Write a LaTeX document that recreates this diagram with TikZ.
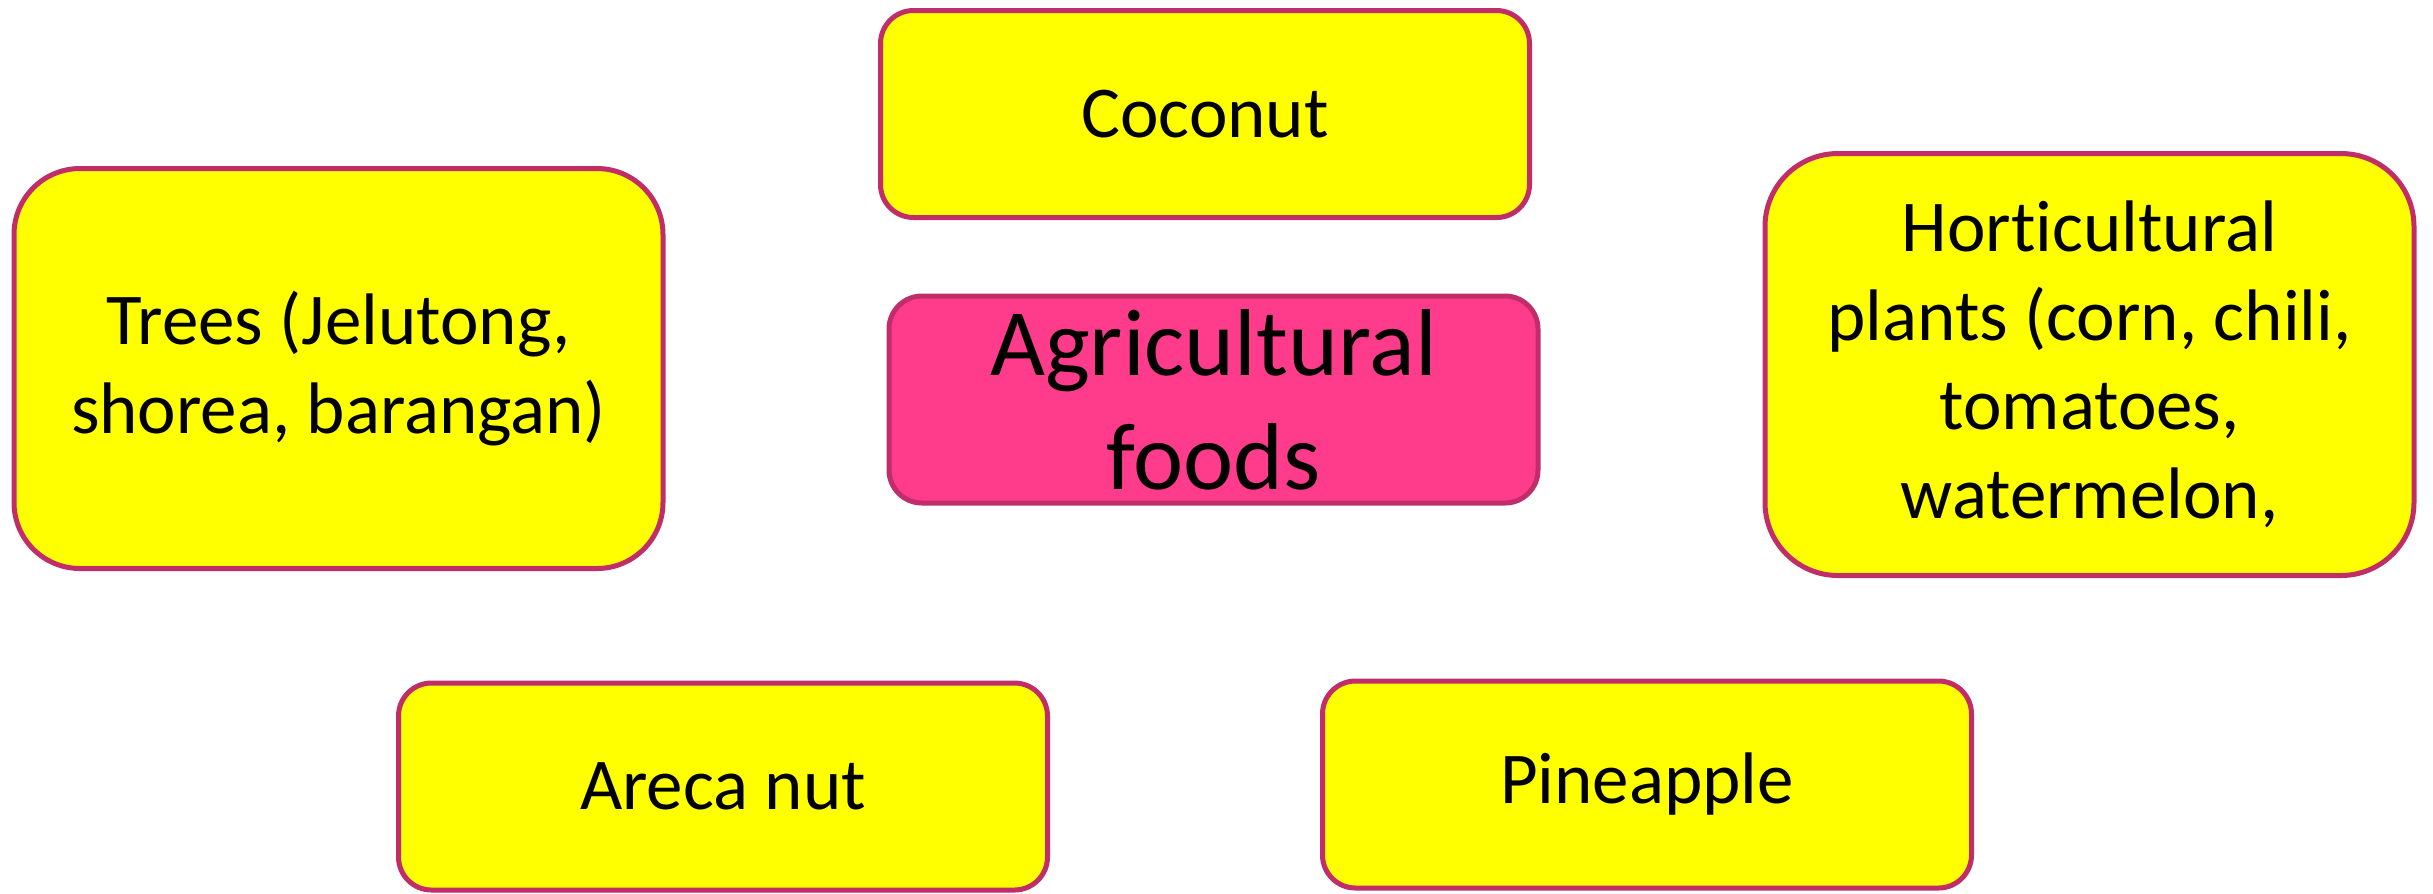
\documentclass[tikz,border=0pt]{standalone}
\usepackage{fontspec}
\setmainfont{Carlito}[Ligatures=NoCommon]
\definecolor{boxyellow}{HTML}{FFFF00}
\definecolor{boxpink}{HTML}{FF3B8C}
\definecolor{boxline}{HTML}{C02D69}
\tikzset{
  foodbox/.style={draw=boxline, line width=1.25pt, fill=boxyellow,
    rounded corners=8.25pt, minimum width=162.25pt, minimum height=51.75pt,
    inner sep=0pt, align=center, font=\fontsize{18.25pt}{22.25pt}\selectfont},
  mainbox/.style={foodbox, fill=boxpink, font=\fontsize{23.75pt}{28.5pt}\selectfont},
}
\begin{document}
\begin{tikzpicture}[x=0.25pt, y=-0.25pt]
            \useasboundingbox (0, 0) rectangle (2433, 893);

            % centre
            \node[mainbox] (agri) at (1213.5, 399.5) {Agricultural\\foods};

            % top row
            \node[foodbox] (coconut) at (1205, 114) {Coconut};

            % sides
            \node[foodbox, minimum height=100pt, rounded corners=16.5pt] (trees) at (338.5, 368.5)
              {Trees (Jelutong,\\shorea, barangan)};
            \node[foodbox, minimum height=105.5pt, rounded corners=18.25pt] (horti) at (2089.5, 364.5)
              {Horticultural\\plants (corn, chili,\\tomatoes,\\watermelon,};

            % bottom row
            \node[foodbox] (areca) at (723, 786.5) {Areca nut};
            \node[foodbox] (pineapple) at (1647, 784.5) {Pineapple};
          \end{tikzpicture}
\end{document}
